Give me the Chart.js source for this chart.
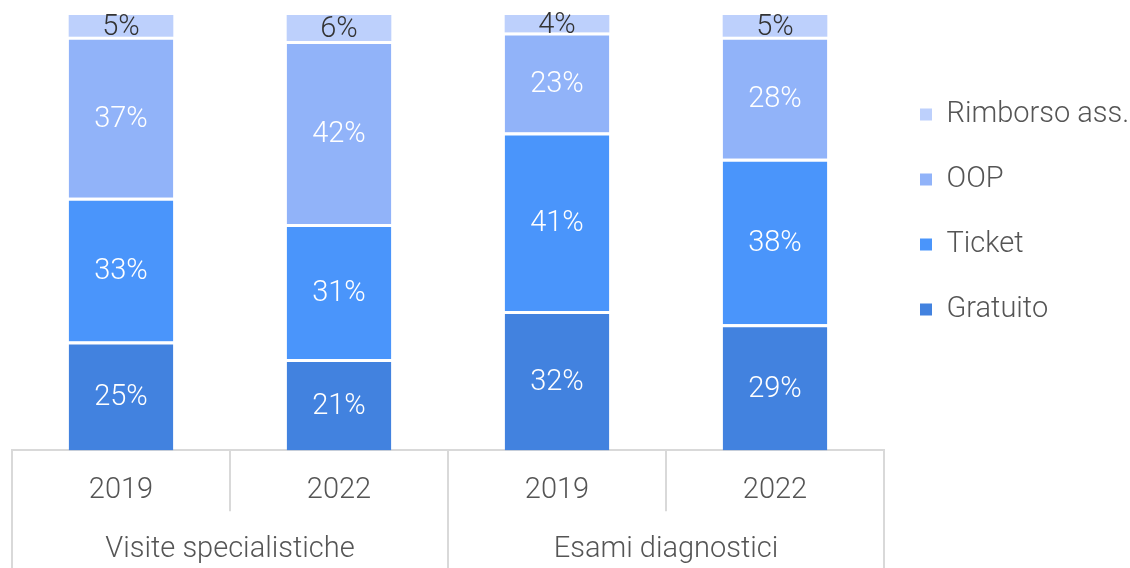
<!DOCTYPE html>
<html>
<head>
<meta charset="utf-8">
<script src="https://cdn.jsdelivr.net/npm/chart.js@4/dist/chart.umd.min.js"></script>
<style>
  html, body { margin: 0; padding: 0; background: #fff; }
  #wrap { width: 1130px; height: 568px; }
</style>
</head>
<body>
<div id="wrap"><canvas id="chart"></canvas></div>
<script>
const years = ['2019', '2022', '2019', '2022'];
const groups = ['Visite specialistiche', 'Esami diagnostici'];

const gratuito = [25, 21, 32, 29];
const ticket = [33, 31, 41, 38];
const oop = [37, 42, 23, 28];
const rimborso = [5, 6, 4, 5];

const FONT = 'Roboto';
const GRID = '#d9d9d9';

// writes the % value in the middle of every segment
const segmentLabels = {
    id: 'segmentLabels',
    afterDatasetsDraw(chart) {
        const ctx = chart.ctx;
        ctx.save();
        ctx.font = '300 29px ' + FONT;
        ctx.textAlign = 'center';
        ctx.textBaseline = 'middle';
        chart.data.datasets.forEach((ds, di) => {
            const meta = chart.getDatasetMeta(di);
            ctx.fillStyle = ds.labelColor;
            meta.data.forEach((bar, i) => {
                const y = (bar.y + bar.base) / 2;
                ctx.fillText(ds.data[i] + '%', bar.x, y + 2);
            });
        });
        ctx.restore();
    }
};

// separators of the two-level category axis
const groupLines = {
    id: 'groupLines',
    afterDraw(chart) {
        const x = chart.scales.x;
        const x2 = chart.scales.x2;
        const n = years.length;
        const step = (x.right - x.left) / n;
        const ctx = chart.ctx;
        ctx.save();
        ctx.strokeStyle = GRID;
        ctx.lineWidth = 2;
        for (let k = 0; k <= n; k++) {
            const px = Math.round(x.left + k * step);
            const outer = k % 2 === 0;
            ctx.beginPath();
            ctx.moveTo(px, x.top);
            ctx.lineTo(px, outer ? x2.bottom : x.bottom - 20);
            ctx.stroke();
        }
        ctx.restore();
    }
};

const gap = { top: 3, left: 0, right: 0, bottom: 0 };

const data = {
    labels: years,
    datasets: [
        { label: 'Gratuito', data: gratuito, backgroundColor: '#4282df', borderColor: '#fff', borderWidth: gap, labelColor: '#fff' },
        { label: 'Ticket', data: ticket, backgroundColor: '#4a95fb', borderColor: '#fff', borderWidth: gap, labelColor: '#fff' },
        { label: 'OOP', data: oop, backgroundColor: '#91b3f9', borderColor: '#fff', borderWidth: gap, labelColor: '#fff' },
        { label: 'Rimborso ass.', data: rimborso, backgroundColor: '#bdd0fc', borderWidth: 0, labelColor: '#333' }
    ]
};

const config = {
    type: 'bar',
    data: data,
    plugins: [segmentLabels, groupLines],
    options: {
        responsive: true,
        maintainAspectRatio: false,
        animation: false,
        layout: { padding: { top: 15, left: 12, right: 0, bottom: 0 } },
        datasets: {
            bar: {
                categoryPercentage: 1,
                barPercentage: 0.48,
                borderSkipped: false
            }
        },
        plugins: {
            tooltip: { enabled: false },
            legend: {
                position: 'right',
                align: 'start',
                fullSize: false,
                reverse: true,
                maxWidth: 246,
                title: { display: true, text: '', font: { size: 10 }, padding: { top: 37, bottom: 0 } },
                labels: {
                    boxWidth: 12,
                    boxHeight: 12,
                    padding: 36,
                    color: '#555',
                    font: { family: FONT, size: 29, weight: 300 },
                    generateLabels(chart) {
                        const items = Chart.defaults.plugins.legend.labels.generateLabels(chart);
                        items.forEach(it => { it.lineWidth = 0; });
                        return items;
                    }
                }
            }
        },
        scales: {
            y: {
                display: false,
                stacked: true,
                min: 0,
                max: 100
            },
            x: {
                stacked: true,
                border: { display: true, color: GRID, width: 2 },
                grid: { display: false, drawTicks: false },
                ticks: {
                    padding: 23,
                    color: '#555',
                    font: { family: FONT, size: 29, weight: 300 }
                }
            },
            x2: {
                type: 'category',
                position: 'bottom',
                labels: groups,
                border: { display: false },
                grid: { display: false, drawTicks: false },
                ticks: {
                    padding: 1,
                    color: '#555',
                    font: { family: FONT, size: 29, weight: 300 }
                }
            }
        }
    }
};

new Chart(document.getElementById('chart'), config);
</script>
</body>
</html>
